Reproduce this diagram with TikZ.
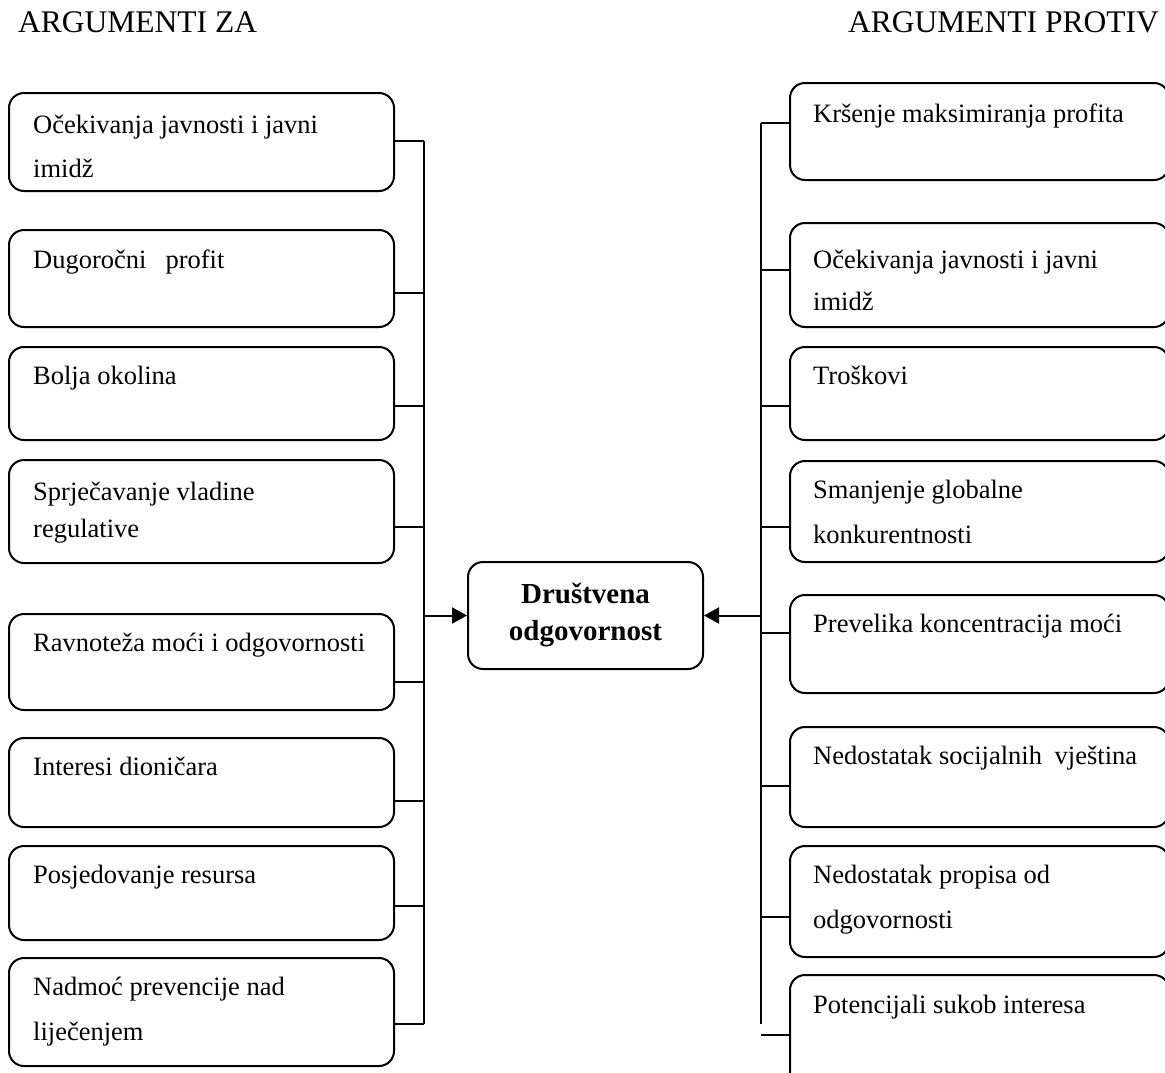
\documentclass[tikz,border=0pt]{standalone}
\usepackage{fontspec}
\setmainfont{Liberation Serif}
\usetikzlibrary{arrows.meta}
\begin{document}
\begin{tikzpicture}[x=1pt,y=-1pt,
  box/.style={draw, line width=2pt, rounded corners=15pt, inner sep=0pt, anchor=north west},
  txt/.style={anchor=base west, inner sep=0pt, font=\fontsize{26.5}{32}\selectfont},
  hdr/.style={inner sep=0pt, font=\fontsize{31.5}{38}\selectfont},
  ctr/.style={anchor=base, inner sep=0pt, font=\fontsize{29}{35}\selectfont\bfseries},
  conn/.style={line width=2pt},
  arr/.style={line width=2pt, -{Triangle[length=15pt,width=16pt]}}]
\useasboundingbox (0,0) rectangle (1165,1072);
\clip (0,0) rectangle (1165,1072);

% headers
\node[hdr, anchor=base west] (hza) at (18,32) {ARGUMENTI ZA};
\node[hdr, anchor=base east] (hprotiv) at (1159,32) {ARGUMENTI PROTIV};

% left boxes
\node[box, minimum width=385pt, minimum height=98pt]  (L1) at (8,92) {};
\node[box, minimum width=385pt, minimum height=97pt]  (L2) at (8,229) {};
\node[box, minimum width=385pt, minimum height=93pt]  (L3) at (8,346) {};
\node[box, minimum width=385pt, minimum height=103pt] (L4) at (8,459) {};
\node[box, minimum width=385pt, minimum height=96pt]  (L5) at (8,613) {};
\node[box, minimum width=385pt, minimum height=89pt]  (L6) at (8,737) {};
\node[box, minimum width=385pt, minimum height=94pt]  (L7) at (8,845) {};
\node[box, minimum width=385pt, minimum height=108pt] (L8) at (8,957) {};

\node[txt] (t1a) at (33,133) {Očekivanja javnosti i javni};
\node[txt] (t1b) at (33,177) {imidž};
\node[txt] (t2a) at (33,268) {Dugoročni\hspace{19pt}profit};
\node[txt] (t3a) at (33,384) {Bolja okolina};
\node[txt] (t4a) at (33,500) {Sprječavanje vladine};
\node[txt] (t4b) at (33,537) {regulative};
\node[txt] (t5a) at (33,651) {Ravnoteža moći i odgovornosti};
\node[txt] (t6a) at (33,775) {Interesi dioničara};
\node[txt] (t7a) at (33,883) {Posjedovanje resursa};
\node[txt] (t8a) at (33,995) {Nadmoć prevencije nad};
\node[txt] (t8b) at (33,1040) {liječenjem};

% right boxes
\node[box, minimum width=379pt, minimum height=97pt]  (R1) at (789,82) {};
\node[box, minimum width=379pt, minimum height=104pt] (R2) at (789,222) {};
\node[box, minimum width=379pt, minimum height=93pt]  (R3) at (789,346) {};
\node[box, minimum width=379pt, minimum height=101pt] (R4) at (789,460) {};
\node[box, minimum width=379pt, minimum height=98pt]  (R5) at (789,594) {};
\node[box, minimum width=379pt, minimum height=100pt] (R6) at (789,726) {};
\node[box, minimum width=379pt, minimum height=111pt] (R7) at (789,845) {};
\node[box, minimum width=379pt, minimum height=115pt] (R8) at (789,974) {};

\node[txt] (s1a) at (813,122) {Kršenje maksimiranja profita};
\node[txt] (s2a) at (813,268) {Očekivanja javnosti i javni};
\node[txt] (s2b) at (813,310) {imidž};
\node[txt] (s3a) at (813,384) {Troškovi};
\node[txt] (s4a) at (813,498) {Smanjenje globalne};
\node[txt] (s4b) at (813,543) {konkurentnosti};
\node[txt] (s5a) at (813,632) {Prevelika koncentracija moći};
\node[txt] (s6a) at (813,764) {Nedostatak socijalnih\hspace{6pt} vještina};
\node[txt] (s7a) at (813,883) {Nedostatak propisa od};
\node[txt] (s7b) at (813,928) {odgovornosti};
\node[txt] (s8a) at (813,1013) {Potencijali sukob interesa};

% center
\node[box, anchor=center, minimum width=235pt, minimum height=107pt] (C) at (585.5,615.5) {};
\node[ctr] (c1) at (585.5,603) {Društvena};
\node[ctr] (c2) at (585.5,640) {odgovornost};

% left bus
\coordinate (lbt) at (424,141);
\coordinate (lbb) at (424,1024);
\draw[conn] (lbt) -- (lbb);
\draw[conn] (L1.east |- 0,141) -- (lbt);
\draw[conn] (L2.east |- 0,293) -- (lbt |- 0,293);
\draw[conn] (L3.east |- 0,406) -- (lbt |- 0,406);
\draw[conn] (L4.east |- 0,527) -- (lbt |- 0,527);
\draw[conn] (L5.east |- 0,682) -- (lbt |- 0,682);
\draw[conn] (L6.east |- 0,801) -- (lbt |- 0,801);
\draw[conn] (L7.east |- 0,906) -- (lbt |- 0,906);
\draw[conn] (L8.east |- 0,1024) -- (lbb);
\draw[arr] (lbt |- C.west) -- (C.west);

% right bus
\coordinate (rbt) at (761,123);
\coordinate (rbb) at (761,1024);
\draw[conn] (rbt) -- (rbb);
\draw[conn] (R1.west |- 0,123) -- (rbt);
\draw[conn] (R2.west |- 0,270) -- (rbt |- 0,270);
\draw[conn] (R3.west |- 0,406) -- (rbt |- 0,406);
\draw[conn] (R4.west |- 0,527) -- (rbt |- 0,527);
\draw[conn] (R5.west |- 0,633) -- (rbt |- 0,633);
\draw[conn] (R6.west |- 0,786) -- (rbt |- 0,786);
\draw[conn] (R7.west |- 0,917) -- (rbt |- 0,917);
\draw[conn] (R8.west |- 0,1035) -- (rbt |- 0,1035);
\draw[arr] (rbt |- C.east) -- (C.east);
\end{tikzpicture}
\end{document}
